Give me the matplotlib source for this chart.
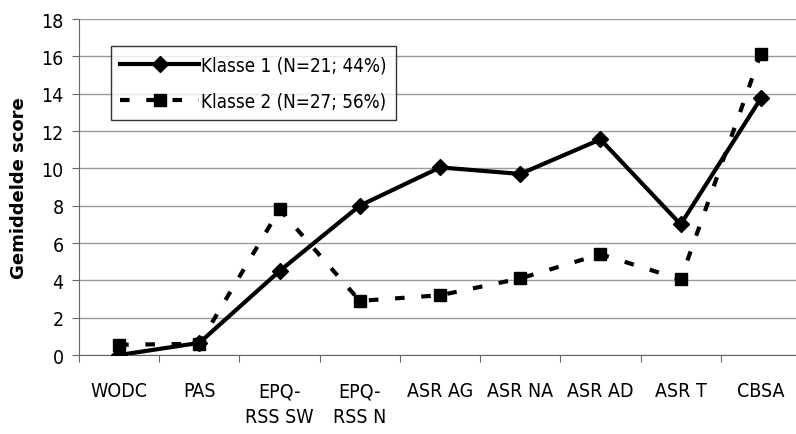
import matplotlib
matplotlib.use("Agg")
import matplotlib.pyplot as plt
import numpy as np

categories = ["WODC", "PAS", "EPQ-\nRSS SW", "EPQ-\nRSS N", "ASR AG", "ASR NA", "ASR AD", "ASR T", "CBSA"]
klasse1 = [0.0, 0.65, 4.5, 8.0, 10.05, 9.7, 11.55, 7.0, 13.75]
klasse2 = [0.55, 0.6, 7.8, 2.9, 3.2, 4.1, 5.4, 4.05, 16.15]
label1 = "Klasse 1 (N=21; 44%)"
label2 = "Klasse 2 (N=27; 56%)"
yticks = [0, 2, 4, 6, 8, 10, 12, 14, 16, 18]

plt.rcParams['font.family'] = ['DejaVu Sans']
plt.rcParams['font.stretch'] = 'condensed'
fig = plt.figure(figsize=(7.96, 4.35), dpi=100)
ax = fig.add_axes([79 / 796, 1 - 356 / 435, 722 / 796, 336 / 435])

x = np.arange(len(categories))
ax.plot(x, klasse1, color='black', lw=3.0, marker='D', ms=8, label=label1, zorder=3)
ax.plot(x, klasse2, color='black', lw=3.0, ls=(0, (2.3, 4.0)), marker='s', ms=9, label=label2, zorder=3)

ax.set_xlim(-0.5, len(categories) - 0.5)
ax.set_ylim(0, 18)
ax.set_yticks(yticks)
ax.yaxis.grid(True, color='#9a9a9a', lw=1)
ax.set_axisbelow(True)

ax.set_xticks(np.arange(len(categories) + 1) - 0.5)
ax.set_xticklabels([])
ax.set_xticks(x, minor=True)
ax.set_xticklabels(categories, minor=True, fontsize=14)
ax.tick_params(axis='x', which='minor', length=0, pad=19)
ax.tick_params(axis='x', which='major', length=5, color='#666666')
ax.tick_params(axis='y', length=5, color='#666666', labelsize=14, pad=6)
for lbl in ax.get_xticklabels(minor=True):
    lbl.set_linespacing(1.45)
    lbl.set_verticalalignment('top')

for s in ['top', 'right']:
    ax.spines[s].set_visible(False)
for s in ['left', 'bottom']:
    ax.spines[s].set_color('#666666')
ax.spines['bottom'].set_zorder(2.5)

ax.set_ylabel("Gemiddelde score", fontsize=13, fontweight='bold', fontstretch='normal')
ax.yaxis.set_label_coords(-(79 - 28) / 722, 0.5)

leg = ax.legend(loc='upper left', bbox_to_anchor=((111 - 79) / 722, (356 - 47) / 336), frameon=True,
                fancybox=False, edgecolor='black', fontsize=13.5, handlelength=4.2, borderpad=0.5,
                labelspacing=0.9, handletextpad=0.12, borderaxespad=0)
leg.get_frame().set_linewidth(1.0)

fig.savefig("out.png", dpi=100)
